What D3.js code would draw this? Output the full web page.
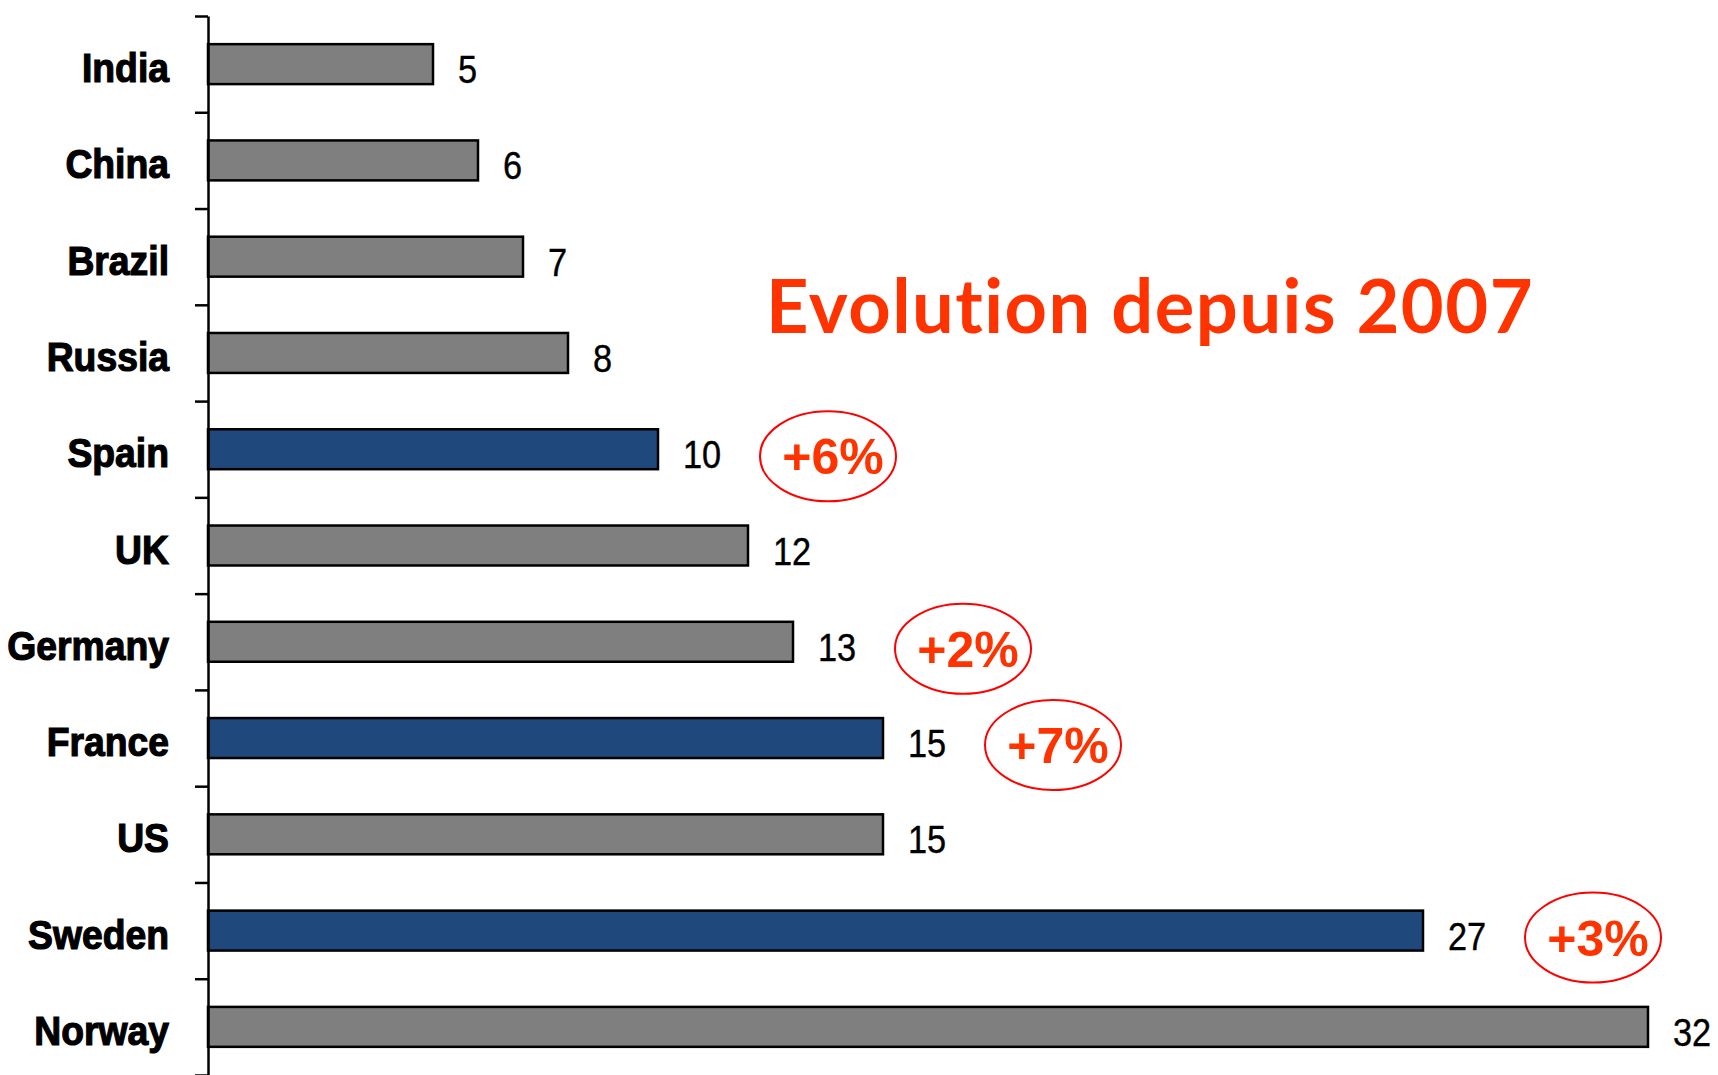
<!DOCTYPE html>
<html lang="en">

<head>
    <meta charset="UTF-8">
    <script src="https://d3js.org/d3.v7.min.js"></script>
    <title>Evolution depuis 2007</title>
    <style>
        body { margin: 0; background: #fff; }
        .cat { font-family: "Liberation Sans", Arial, sans-serif; font-weight: 700; font-size: 41px; fill: #000;
               stroke: #000; stroke-width: 1.2px; }
        .value { font-family: "Liberation Sans", Arial, sans-serif; font-size: 39px; fill: #000; stroke: #000; stroke-width: 0.4px; }
        .title { font-family: Lato, "DejaVu Sans", sans-serif; font-weight: 700; font-size: 74px; fill: #ff3300;
                 font-variant-ligatures: none; letter-spacing: 1.5px; }
        .change { font-family: "Liberation Sans", Arial, sans-serif; font-weight: 700; font-size: 50px; fill: #ff3300; }
    </style>
</head>

<body>
    <div id="chart"></div>
    <script>
        // Data
        const countries = ["India", "China", "Brazil", "Russia", "Spain", "UK", "Germany", "France", "US", "Sweden", "Norway"];
        const values = [5, 6, 7, 8, 10, 12, 13, 15, 15, 27, 32];
        const highlighted = ["Spain", "France", "Sweden"];
        const changeCountries = ["Spain", "Germany", "France", "Sweden"];
        const changeLabels = ["+6%", "+2%", "+7%", "+3%"];

        const data = countries.map((c, i) => ({ country: c, value: values[i] }));
        const changes = changeCountries.map((c, i) => ({ country: c, label: changeLabels[i], value: values[countries.indexOf(c)] }));

        // Dimensions
        const width = 1718;
        const height = 1075;
        const axisX = 208;

        const svg = d3.select("#chart")
            .append("svg")
            .attr("width", width)
            .attr("height", height);

        // Scales
        const xScale = d3.scaleLinear()
            .domain([0, 32])
            .range([axisX, 1648]);

        const yScale = d3.scaleBand()
            .domain(countries)
            .range([16, 1075])
            .paddingInner(0.585)
            .paddingOuter(0.2925);

        const boundary = d3.scaleLinear()
            .domain([0, countries.length])
            .range(yScale.range());

        const mid = c => yScale(c) + yScale.bandwidth() / 2;

        // Bars
        svg.append("g")
            .selectAll("rect")
            .data(data)
            .join("rect")
            .attr("x", xScale(0))
            .attr("y", d => yScale(d.country))
            .attr("width", d => xScale(d.value) - xScale(0))
            .attr("height", yScale.bandwidth())
            .attr("fill", d => highlighted.includes(d.country) ? "#1f497d" : "#7f7f7f")
            .attr("stroke", "#000")
            .attr("stroke-width", 2.5);

        // Axis with ticks between categories
        const tickAxis = svg.append("g")
            .attr("transform", `translate(${axisX},0)`)
            .call(d3.axisLeft(boundary)
                .tickValues(d3.range(0, countries.length + 1))
                .tickSize(13)
                .tickSizeOuter(0)
                .tickFormat(""));
        tickAxis.selectAll("path, line")
            .attr("stroke", "#000")
            .attr("stroke-width", 2.5);

        // Category labels (narrow bold face simulated by horizontal squeeze)
        svg.append("g")
            .selectAll("text")
            .data(countries)
            .join("text")
            .attr("class", "cat")
            .attr("text-anchor", "end")
            .attr("transform", d => `translate(169,${mid(d) + 18}) scale(0.91,1)`)
            .text(d => d);

        // Value labels
        svg.append("g")
            .selectAll("text")
            .data(data)
            .join("text")
            .attr("class", "value")
            .attr("transform", d => `translate(${xScale(d.value) + 25},${mid(d.country) + 19}) scale(0.88,1)`)
            .text(d => d.value);

        // Title
        svg.append("text")
            .attr("class", "title")
            .attr("x", 766)
            .attr("y", 333)
            .text("Evolution depuis 2007");

        // Change annotations
        const ann = svg.append("g")
            .selectAll("g")
            .data(changes)
            .join("g")
            .attr("transform", d => `translate(${xScale(d.value) + 170},${mid(d.country) + 7})`);

        ann.append("ellipse")
            .attr("rx", 68)
            .attr("ry", 45)
            .attr("fill", "none")
            .attr("stroke", "#ff0000")
            .attr("stroke-width", 2);

        ann.append("text")
            .attr("class", "change")
            .attr("x", 5)
            .attr("y", 18)
            .attr("text-anchor", "middle")
            .text(d => d.label);
    </script>
</body>

</html>
